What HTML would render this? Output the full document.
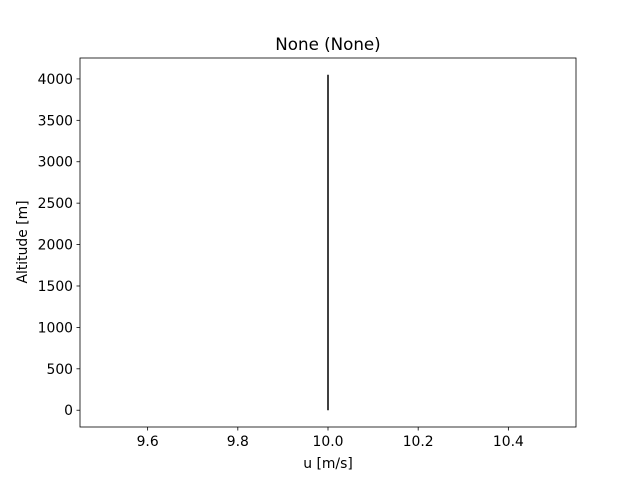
<!DOCTYPE html>
<html><head><meta charset="utf-8"><style>
body{margin:0;background:#fff;font-family:"Liberation Sans","DejaVu Sans",sans-serif}
text{font-family:"DejaVu Sans","Liberation Sans",sans-serif;font-size:13.9px;fill:#000}
</style></head><body>
<svg id="chart" width="640" height="480">
<rect width="640" height="480" fill="#fff"/>
<text x="328" y="50" text-anchor="middle" style="font-size:16.7px">None (None)</text>
<g id="xt"></g>
<g id="yt"></g>
<text x="328" y="468" text-anchor="middle">u [m/s]</text>
<text transform="translate(27,242) rotate(-90)" text-anchor="middle">Altitude [m]</text>
<path id="line" fill="none" stroke="#000" stroke-width="1.5"/>
<rect x="80" y="58" width="496" height="369" fill="none" stroke="#000" stroke-width="0.8"/>
</svg>
<script>
const uValues=[10,10,10,10,10];
const altitudes=[0,1000,2000,3000,4050];
const xTicks=[9.6,9.8,10.0,10.2,10.4];
const yTicks=[0,500,1000,1500,2000,2500,3000,3500,4000];
const L=80,R=576,T=58,B=427;
const xmin=9.45,xmax=10.55;
const dmax=Math.max(...altitudes),dmin=Math.min(...altitudes);
const ymin=dmin-0.05*(dmax-dmin),ymax=dmax+0.05*(dmax-dmin);
const xs=v=>L+(v-xmin)/(xmax-xmin)*(R-L);
const ys=v=>B-(v-ymin)/(ymax-ymin)*(B-T);
const NS='http://www.w3.org/2000/svg';
function mk(t,a,p){const e=document.createElementNS(NS,t);for(const k in a)e.setAttribute(k,a[k]);p.appendChild(e);return e;}
const xg=document.getElementById('xt'),yg=document.getElementById('yt');
xTicks.forEach(v=>{const x=xs(v);
const l=mk('line',{x1:x,x2:x,y1:B,y2:B+3.5,stroke:'#000','stroke-width':0.8},xg);


const t=mk('text',{x:x,y:B+19,'text-anchor':'middle'},xg);t.textContent=v.toFixed(1);

});
yTicks.forEach(v=>{const y=ys(v);
const l=mk('line',{x1:L-3.5,x2:L,y1:y,y2:y,stroke:'#000','stroke-width':0.8},yg);


const t=mk('text',{x:L-7,y:y+5,'text-anchor':'end'},yg);t.textContent=v;

});
document.getElementById('line').setAttribute('d',uValues.map((u,i)=>(i?'L':'M')+xs(u)+','+ys(altitudes[i])).join(''));
</script>
</body></html>
